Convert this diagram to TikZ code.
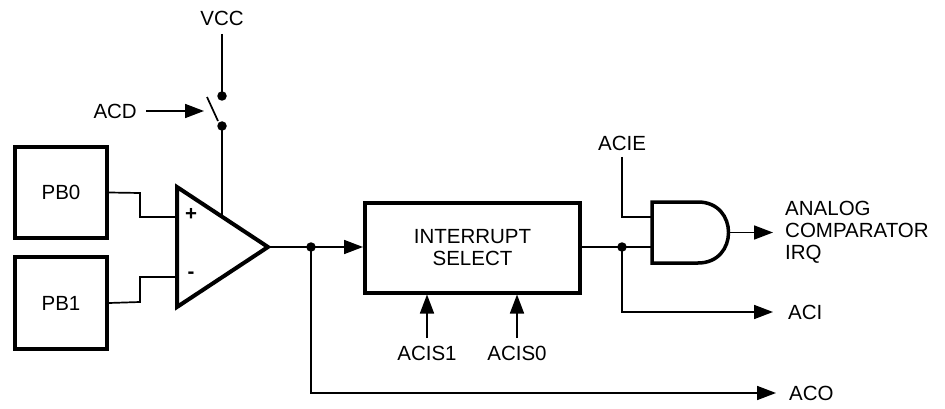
\documentclass[tikz,border=0pt]{standalone}
\usepackage{fontspec}
\setmainfont{Liberation Sans}
\usetikzlibrary{arrows.meta}
\begin{document}
\begin{tikzpicture}[x=1pt,y=-1pt,
  wire/.style={line width=1.7pt},
  arr/.style={wire,-{Triangle[length=19pt,width=14pt]}},
  blk/.style={draw,line width=4pt,inner sep=0pt},
  heavy/.style={line width=4pt,line join=miter},
  lbl/.style={inner sep=0pt,font=\fontsize{20.5}{22}\selectfont},
  sign/.style={inner sep=0pt,font=\bfseries\fontsize{20.5}{22}\selectfont},
  dot/.style={circle,fill,inner sep=0pt,minimum size=9.5pt}]
\useasboundingbox (0,0) rectangle (945,409);
% switch and supply
\node[lbl] (vcc) at (222,18) {VCC};
\node[dot] (d1) at (222,96) {};
\node[dot] (d2) at (222,126) {};
\coordinate (vcctop) at (222,34);
\draw[wire] (vcctop) -- (d1.center);
\coordinate (bladeA) at (207,97);
\coordinate (bladeB) at (218,121);
\draw[wire] (bladeA) -- (bladeB);
\node[lbl,anchor=east] (acd) at (137,111) {ACD};
\coordinate (acdstart) at (146,111);
\coordinate (acdtip) at (204,111);
\draw[arr] (acdstart) -- (acdtip);
% input boxes
\node[blk,lbl,minimum width=92pt,minimum height=91pt] (pb0) at (61,192.5) {PB0};
\node[blk,lbl,minimum width=92pt,minimum height=92pt] (pb1) at (61,303) {PB1};
% comparator
\coordinate (tA) at (177,187);
\coordinate (tB) at (177,307);
\coordinate (tC) at (268,247);
\draw[heavy] (tA) -- (tC) -- (tB) -- cycle;
\coordinate (inP) at (177,217);
\coordinate (inM) at (177,277);
\coordinate (sup) at (222,216.5);
\node[sign] (plus) at (191,214) {+};
\node[sign] (minus) at (191,275) {-};
\draw[wire] (pb0.east) -- (140,193) |- (inP);
\draw[wire] (pb1.east) -- (140,302) |- (inM);
\draw[wire] (d2.center) -- (sup);
% interrupt select
\node[blk,lbl,minimum width=215pt,minimum height=90pt,align=center] (isel) at (472.5,247.5) {INTERRUPT\\SELECT};
\node[dot] (j1) at (311,247) {};
\draw[wire] (tC) -- (j1.center);
\draw[arr] (j1.center) -- (isel.west |- j1);
\node[lbl,anchor=west] (aco) at (789,393) {ACO};
\coordinate (acotip) at (776,393);
\draw[arr] (j1.center) |- (acotip);
\node[lbl] (acis1) at (427,353) {ACIS1};
\node[lbl] (acis0) at (517,353) {ACIS0};
\coordinate (a1s) at (427,338);
\coordinate (a0s) at (517,338);
\draw[arr] (a1s) -- (a1s |- isel.south);
\draw[arr] (a0s) -- (a0s |- isel.south);
% AND gate
\coordinate (gA) at (652,202);
\coordinate (gB) at (698,202);
\coordinate (gC) at (698,263);
\coordinate (gD) at (652,263);
\draw[line width=3.5pt,line join=miter] (gA) -- (gB) .. controls (738.7,202) and (738.7,263) .. (gC) -- (gD) -- cycle;
\coordinate (gin1) at (652,217);
\coordinate (gin2) at (652,247);
\coordinate (gout) at (728.5,232.5);
\node[dot] (j2) at (622,247) {};
\draw[wire] (isel.east |- j2) -- (j2.center) -- (gin2);
\node[lbl] (acie) at (622,143) {ACIE};
\coordinate (aciebot) at (622,157);
\draw[wire] (aciebot) |- (gin1);
\node[lbl,anchor=west] (aci) at (788,312) {ACI};
\coordinate (acitip) at (773,312);
\draw[arr] (j2.center) |- (acitip);
\node[lbl,anchor=west,align=left] (irq) at (785,232) {ANALOG\\COMPARATOR\\IRQ};
\coordinate (irqtip) at (773,232.5);
\draw[arr] (gout) -- (irqtip);
\end{tikzpicture}
\end{document}
